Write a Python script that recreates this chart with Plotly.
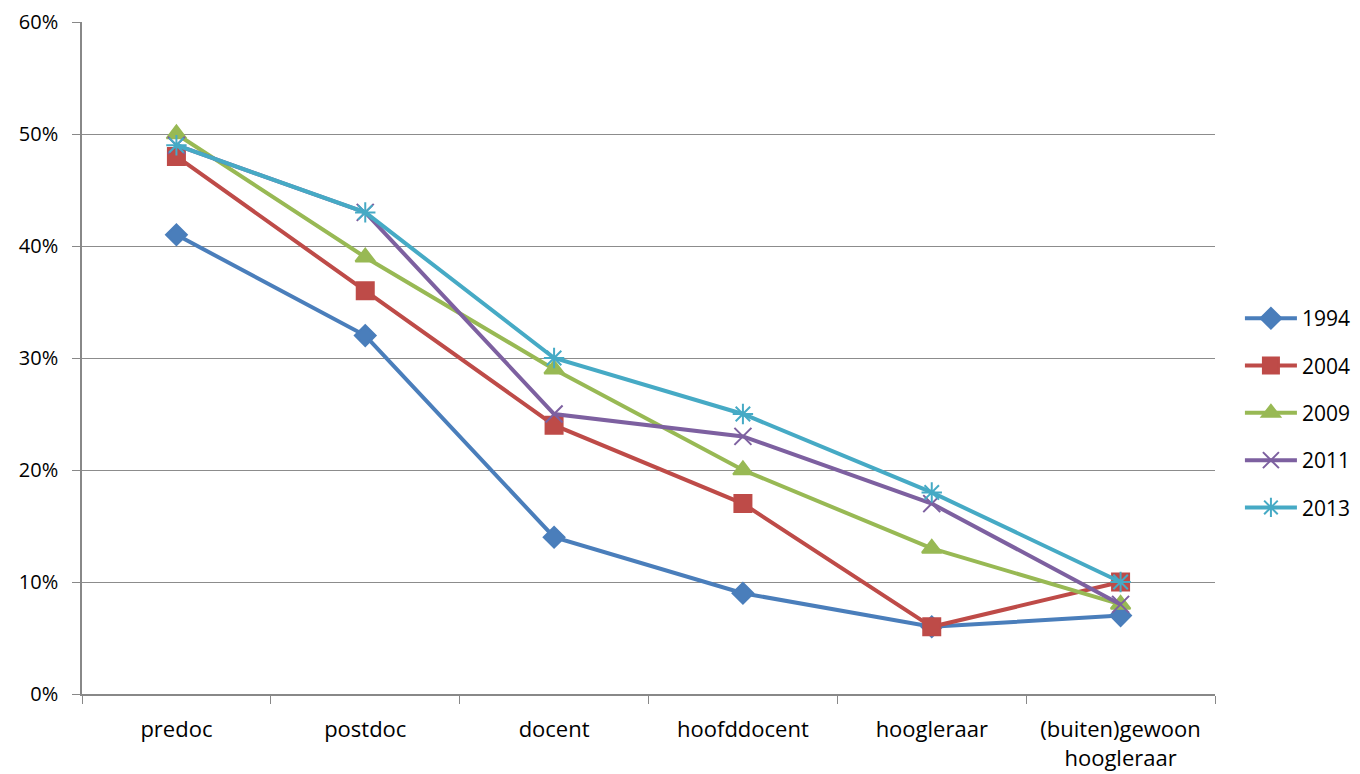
import plotly.graph_objects as go

categories = ["predoc", "postdoc", "docent", "hoofddocent", "hoogleraar", "(buiten)gewoon<br>hoogleraar"]
years = ["1994", "2004", "2009", "2011", "2013"]
v1994 = [0.41, 0.32, 0.14, 0.09, 0.06, 0.07]
v2004 = [0.48, 0.36, 0.24, 0.17, 0.06, 0.10]
v2009 = [0.50, 0.39, 0.29, 0.20, 0.13, 0.08]
v2011 = [0.49, 0.43, 0.25, 0.23, 0.17, 0.08]
v2013 = [0.49, 0.43, 0.30, 0.25, 0.18, 0.10]
series = [v1994, v2004, v2009, v2011, v2013]

colors = ["#4A7EBB", "#BE4B48", "#98B954", "#7D60A0", "#46AAC5"]
symbols = ["diamond", "square", "triangle-up", "x-thin-open", "asterisk-open"]
sizes = [16, 17, 17, 17, 17]

fig = go.Figure()
for name, vals, c, s, sz in zip(years, series, colors, symbols, sizes):
    fig.add_trace(go.Scatter(
        x=categories, y=vals, name=name, mode="lines+markers",
        line=dict(color=c, width=4),
        marker=dict(symbol=s, size=sz, color=c, line=dict(color=c, width=2)),
        legendgroup=name,
    ))

fig.update_layout(
    width=1360, height=774,
    margin=dict(l=74, r=153, t=14, b=88, autoexpand=False),
    paper_bgcolor="white", plot_bgcolor="white",
    font=dict(family="Open Sans, Liberation Sans, sans-serif", size=20, color="black"),
    legend=dict(x=1.022, y=0.418, yanchor="middle", xanchor="left",
                font=dict(size=21), tracegroupgap=17, itemwidth=52),
    showlegend=True,
)
fig.update_xaxes(
    type="category", tickson="boundaries", ticks="outside", ticklen=8,
    tickcolor="#888888", showline=True, linecolor="#888888", linewidth=1.5,
    showgrid=False, range=[-0.5, 5.5], tickfont=dict(size=22),
    ticklabelstandoff=15,
)
fig.update_yaxes(
    range=[0, 0.6], dtick=0.1, tickformat=".0%", ticks="outside", ticklen=8,
    tickcolor="#888888", showline=True, linecolor="#888888", linewidth=1.5,
    showgrid=True, gridcolor="#8c8c8c", gridwidth=1.2, zeroline=False,
    tickfont=dict(size=20), ticklabelstandoff=10,
)

fig.write_html("out.html")
